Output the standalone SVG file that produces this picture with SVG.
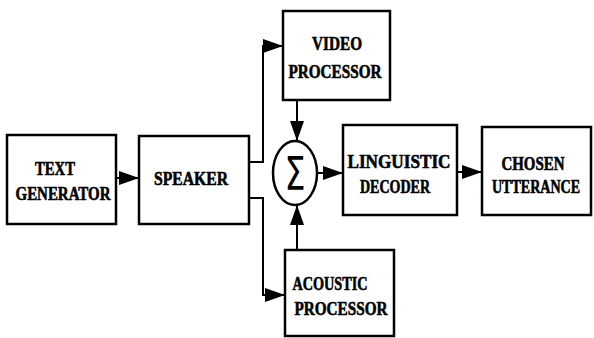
<svg xmlns="http://www.w3.org/2000/svg" width="594" height="338" viewBox="0 0 594 338">
<style>
.box{fill:#fff;stroke:#000;stroke-width:2.5}
.lbl{font-family:"Liberation Serif","Times New Roman",serif;font-weight:bold;font-size:19px;fill:#000;text-anchor:middle;stroke:#000;stroke-width:0.6}
.con{fill:none;stroke:#000;stroke-width:2}
</style>
<defs>
<marker id="ah" markerUnits="userSpaceOnUse" markerWidth="22" markerHeight="16" refX="20" refY="7" orient="auto">
<path d="M0,0 L20,7 L0,14 Z" fill="#000"/>
</marker>
</defs>
<rect width="594" height="338" fill="#fff"/>
<g id="text-generator">
<rect class="box" x="7" y="135" width="109" height="89"/>
<text class="lbl" x="55" y="175" textLength="40" lengthAdjust="spacingAndGlyphs">TEXT</text>
<text class="lbl" x="63" y="200" textLength="95" lengthAdjust="spacingAndGlyphs">GENERATOR</text>
</g>
<g id="speaker">
<rect class="box" x="139" y="136" width="110" height="88"/>
<text class="lbl" x="191" y="185" textLength="74" lengthAdjust="spacingAndGlyphs">SPEAKER</text>
</g>
<g id="video-processor">
<rect class="box" x="283" y="11" width="107" height="89"/>
<text class="lbl" x="337" y="50" textLength="50" lengthAdjust="spacingAndGlyphs">VIDEO</text>
<text class="lbl" x="335" y="78" textLength="93" lengthAdjust="spacingAndGlyphs">PROCESSOR</text>
</g>
<g id="acoustic-processor">
<rect class="box" x="285" y="250" width="109" height="86"/>
<text class="lbl" x="330" y="290" textLength="75" lengthAdjust="spacingAndGlyphs">ACOUSTIC</text>
<text class="lbl" x="341" y="315" textLength="93" lengthAdjust="spacingAndGlyphs">PROCESSOR</text>
</g>
<g id="sum">
<ellipse cx="295" cy="173" rx="22" ry="32" fill="#fff" stroke="#000" stroke-width="2.5"/>
<text x="295" y="190" font-family="'DejaVu Sans',sans-serif" font-size="46" text-anchor="middle" fill="#000" textLength="21" lengthAdjust="spacingAndGlyphs">Σ</text>
</g>
<g id="linguistic-decoder">
<rect class="box" x="343" y="125" width="114" height="90"/>
<text class="lbl" x="399" y="168" textLength="103" lengthAdjust="spacingAndGlyphs">LINGUISTIC</text>
<text class="lbl" x="395" y="193" textLength="70" lengthAdjust="spacingAndGlyphs">DECODER</text>
</g>
<g id="chosen-utterance">
<rect class="box" x="482" y="127" width="109" height="88"/>
<text class="lbl" x="533" y="170" textLength="63" lengthAdjust="spacingAndGlyphs">CHOSEN</text>
<text class="lbl" transform="translate(536,193) scale(0.74,1)" x="0" y="0">UTTERANCE</text>
</g>
<g id="connectors">
<line class="con" x1="116" y1="178" x2="139" y2="178" marker-end="url(#ah)"/>
<polyline class="con" points="249,162 263,162 263,46 283,46" marker-end="url(#ah)"/>
<polyline class="con" points="249,198 263,198 263,295 285,295" marker-end="url(#ah)"/>
<line class="con" x1="297" y1="100" x2="297" y2="141" marker-end="url(#ah)"/>
<line class="con" x1="297" y1="250" x2="297" y2="205" marker-end="url(#ah)"/>
<line class="con" x1="317" y1="173" x2="343" y2="173" marker-end="url(#ah)"/>
<line class="con" x1="457" y1="172" x2="482" y2="172" marker-end="url(#ah)"/>
</g>
</svg>
